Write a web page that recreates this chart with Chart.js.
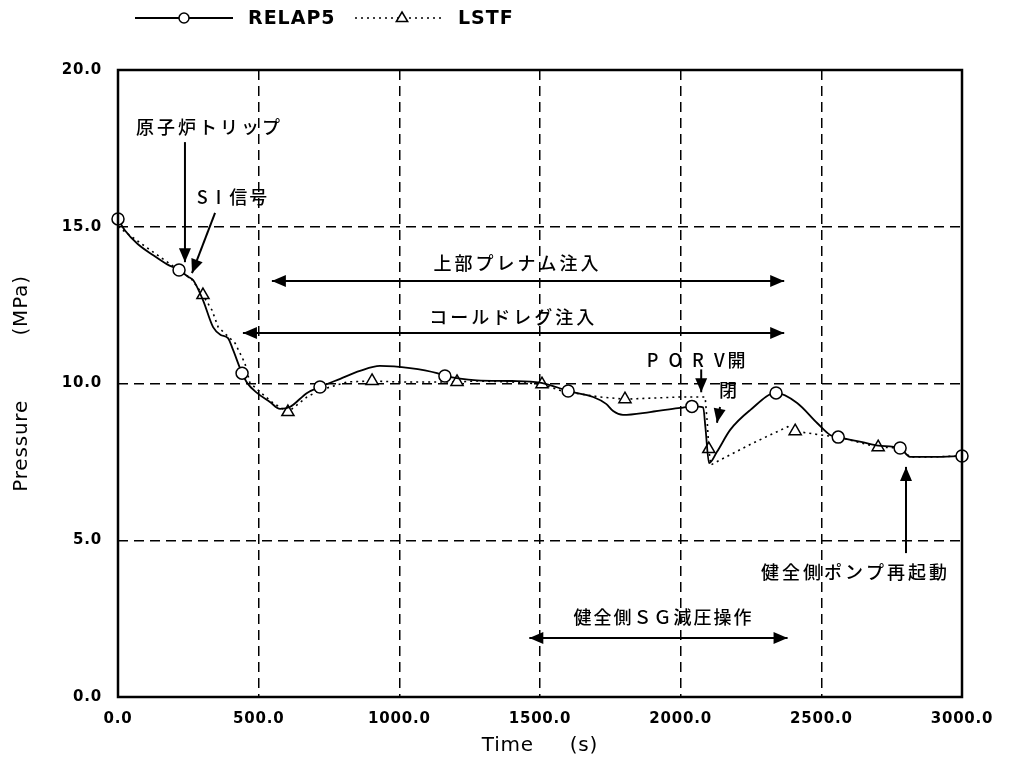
<!DOCTYPE html>
<html>
<head>
<meta charset="utf-8">
<script src="https://cdn.jsdelivr.net/npm/chart.js@4.4.1/dist/chart.umd.min.js"></script>
<style>
  html, body { margin: 0; padding: 0; background: #fff; }
  #wrap { width: 1011px; height: 758px; }
</style>
</head>
<body>
<div id="wrap"><canvas id="c" width="1011" height="758"></canvas></div>
<script>
// RELAP5 calculated pressure history (s, MPa)
const relapTime = [0, 25, 70, 124, 175, 217, 250, 267, 302, 338, 365, 391, 409, 441, 459, 494, 540, 576, 611, 672, 718, 790, 860, 931, 1038, 1134, 1162, 1276, 1400, 1500, 1560, 1600, 1689, 1735, 1760, 1795, 1891, 1998, 2040, 2080, 2088, 2101, 2129, 2176, 2247, 2339, 2414, 2485, 2531, 2560, 2650, 2702, 2780, 2815, 2900, 3000];
const relapPressure = [15.25, 14.88, 14.45, 14.1, 13.8, 13.62, 13.4, 13.3, 12.66, 11.8, 11.55, 11.45, 11.07, 10.33, 10.02, 9.70, 9.41, 9.19, 9.25, 9.70, 9.89, 10.15, 10.40, 10.56, 10.49, 10.33, 10.24, 10.10, 10.08, 10.03, 9.88, 9.76, 9.57, 9.35, 9.12, 9.00, 9.09, 9.22, 9.27, 9.24, 8.60, 7.46, 7.82, 8.52, 9.15, 9.70, 9.38, 8.74, 8.36, 8.29, 8.12, 8.02, 7.94, 7.66, 7.66, 7.69];
const relapMarkTimes = [0, 217, 441, 718, 1162, 1600, 2040, 2339, 2560, 2780, 3000];

// LSTF measured pressure history (s, MPa)
const lstfTime = [0, 100, 200, 260, 302, 334, 356, 416, 451, 469, 505, 551, 604, 672, 718, 814, 903, 1000, 1205, 1276, 1400, 1507, 1577, 1713, 1802, 1998, 2087, 2095, 2100, 2107, 2140, 2257, 2380, 2407, 2496, 2560, 2702, 2780, 2815, 2900, 3000];
const lstfPressure = [15.0, 14.35, 13.72, 13.35, 12.82, 12.34, 11.80, 11.29, 10.65, 10.02, 9.73, 9.38, 9.09, 9.57, 9.79, 10.05, 10.08, 10.05, 10.05, 10.08, 10.05, 9.98, 9.76, 9.57, 9.50, 9.57, 9.57, 8.70, 7.91, 7.40, 7.56, 8.10, 8.62, 8.48, 8.36, 8.29, 7.97, 7.94, 7.66, 7.66, 7.69];
const lstfMarkTimes = [302, 604, 903, 1205, 1507, 1802, 2100, 2407, 2702];

// Axis ticks
const timeTicks = [0, 500, 1000, 1500, 2000, 2500, 3000];
const pressureTicks = [0, 5, 10, 15, 20];

const seriesNames = ['RELAP5', 'LSTF'];

// Event notes: text placed at (t, p); arrows from (t1, p1) to (t2, p2)
const notes = [
  { text: '原子炉トリップ', t: 320, p: 18.18, spacing: 3 },
  { text: 'S I 信号', t: 405, p: 15.95, spacing: 2 },
  { text: '上部プレナム注入', t: 1415, p: 13.84, spacing: 3 },
  { text: 'コールドレグ注入', t: 1400, p: 12.12, spacing: 3 },
  { text: 'P O R V開', t: 2055, p: 10.75, spacing: 3 },
  { text: '閉', t: 2168, p: 9.79, spacing: 0 },
  { text: '健全側ポンプ再起動', t: 2616, p: 3.99, spacing: 3 },
  { text: '健全側ＳＧ減圧操作', t: 1935, p: 2.55, spacing: 2 }
];
const arrows = [
  { t1: 238, p1: 17.7, t2: 238, p2: 13.87, both: false },
  { t1: 345, p1: 15.44, t2: 263, p2: 13.52, both: false },
  { t1: 547, p1: 13.27, t2: 2368, p2: 13.27, both: true },
  { t1: 444, p1: 11.61, t2: 2368, p2: 11.61, both: true },
  { t1: 2073, p1: 10.45, t2: 2073, p2: 9.72, both: false },
  { t1: 2140, p1: 9.25, t2: 2129, p2: 8.75, both: false },
  { t1: 2801, p1: 4.59, t2: 2801, p2: 7.34, both: false },
  { t1: 1462, p1: 1.88, t2: 2380, p2: 1.88, both: true }
];

const LATIN = '"DejaVu Sans", Verdana, sans-serif';
const CJK = '"Noto Sans CJK JP", "Noto Sans", sans-serif';

function toPoints(xs, ys) { return xs.map((x, i) => ({ x: x, y: ys[i] })); }

function arrowHead(ctx, x1, y1, x2, y2, len, half) {
  const a = Math.atan2(y2 - y1, x2 - x1);
  ctx.beginPath();
  ctx.moveTo(x2, y2);
  ctx.lineTo(x2 - len * Math.cos(a) + half * Math.sin(a), y2 - len * Math.sin(a) - half * Math.cos(a));
  ctx.lineTo(x2 - len * Math.cos(a) - half * Math.sin(a), y2 - len * Math.sin(a) + half * Math.cos(a));
  ctx.closePath();
  ctx.fill();
}

function drawTriangle(ctx, x, y, r) {
  ctx.beginPath();
  ctx.moveTo(x, y - r);
  ctx.lineTo(x + r * 0.95, y + r * 0.6);
  ctx.lineTo(x - r * 0.95, y + r * 0.6);
  ctx.closePath();
  ctx.fillStyle = '#fff';
  ctx.fill();
  ctx.stroke();
}

// Slight tracking for the axis labels, then frame, event notes, arrows and the legend row
const decorations = {
  id: 'decorations',
  beforeDraw(chart) {
    chart.ctx.letterSpacing = '0.8px';
  },
  afterDatasetsDraw(chart) {
    const ctx = chart.ctx;
    const xs = chart.scales.x, ys = chart.scales.y;
    const a = chart.chartArea;
    ctx.save();
    ctx.strokeStyle = '#000';
    ctx.lineWidth = 2.5;
    ctx.setLineDash([]);
    ctx.strokeRect(a.left, a.top, a.right - a.left, a.bottom - a.top);

    // arrows
    ctx.fillStyle = '#000';
    ctx.lineWidth = 2;
    arrows.forEach(ar => {
      const x1 = xs.getPixelForValue(ar.t1), y1 = ys.getPixelForValue(ar.p1);
      const x2 = xs.getPixelForValue(ar.t2), y2 = ys.getPixelForValue(ar.p2);
      ctx.beginPath();
      ctx.moveTo(x1, y1);
      ctx.lineTo(x2, y2);
      ctx.stroke();
      arrowHead(ctx, x1, y1, x2, y2, 14, 6);
      if (ar.both) arrowHead(ctx, x2, y2, x1, y1, 14, 6);
    });

    // notes
    ctx.textAlign = 'center';
    ctx.textBaseline = 'middle';
    ctx.font = '500 18px ' + CJK;
    notes.forEach(n => {
      ctx.letterSpacing = n.spacing + 'px';
      ctx.fillText(n.text, xs.getPixelForValue(n.t) + n.spacing / 2, ys.getPixelForValue(n.p));
    });

    // legend
    const ly = 18;
    ctx.lineWidth = 1.8;
    ctx.beginPath();
    ctx.moveTo(135, ly); ctx.lineTo(233, ly);
    ctx.stroke();
    ctx.beginPath();
    ctx.arc(184, ly, 5, 0, Math.PI * 2);
    ctx.fillStyle = '#fff';
    ctx.fill();
    ctx.lineWidth = 1.5;
    ctx.stroke();
    ctx.setLineDash([2, 4]);
    ctx.beginPath();
    ctx.moveTo(355, ly); ctx.lineTo(445, ly);
    ctx.stroke();
    ctx.setLineDash([]);
    drawTriangle(ctx, 402, ly, 6);
    ctx.fillStyle = '#000';
    ctx.textAlign = 'left';
    ctx.font = 'bold 19px ' + LATIN;
    ctx.letterSpacing = '1px';
    ctx.fillText(seriesNames[0], 248, ly + 1);
    ctx.fillText(seriesNames[1], 458, ly + 1);
    ctx.restore();
  },
  afterDraw(chart) {
    chart.ctx.letterSpacing = '0px';
  }
};

const edgeColor = (ends) => (c) => (ends.includes(c.tick.value) ? 'rgba(0,0,0,0)' : '#000');

new Chart(document.getElementById('c'), {
  type: 'line',
  data: {
    datasets: [
      {
        label: seriesNames[0],
        data: toPoints(relapTime, relapPressure),
        borderColor: '#000',
        borderWidth: 1.8,
        cubicInterpolationMode: 'monotone',
        pointStyle: 'circle',
        pointRadius: (c) => (c.raw && relapMarkTimes.includes(c.raw.x) ? 6 : 0),
        pointBackgroundColor: '#fff',
        pointBorderColor: '#000',
        pointBorderWidth: 1.5,
        clip: false
      },
      {
        label: seriesNames[1],
        data: toPoints(lstfTime, lstfPressure),
        borderColor: '#000',
        borderWidth: 1.6,
        borderDash: [2, 4],
        tension: 0,
        pointStyle: 'triangle',
        pointRadius: (c) => (c.raw && lstfMarkTimes.includes(c.raw.x) ? 7 : 0),
        pointBackgroundColor: '#fff',
        pointBorderColor: '#000',
        pointBorderWidth: 1.5,
        clip: false
      }
    ]
  },
  options: {
    responsive: false,
    animation: false,
    devicePixelRatio: 1,
    layout: { padding: { top: 70, right: 49, left: 0, bottom: 0 } },
    plugins: { legend: { display: false }, tooltip: { enabled: false } },
    elements: { point: { hoverRadius: 0 } },
    scales: {
      x: {
        type: 'linear',
        min: 0, max: 3000,
        afterBuildTicks: (s) => { s.ticks = timeTicks.map(v => ({ value: v })); },
        afterFit: (s) => { s.height = 61; },
        ticks: {
          color: '#000',
          font: { family: LATIN, size: 15, weight: 'bold' },
          padding: 13,
          maxRotation: 0,
          callback: (v) => Number(v).toFixed(1)
        },
        grid: { color: edgeColor([0, 3000]), lineWidth: 1.5, drawTicks: false },
        border: { display: false, dash: [10, 6] },
        title: {
          display: true,
          text: 'Time     (s)',
          color: '#000',
          font: { family: LATIN, size: 20 },
          padding: { top: 4, bottom: 0 }
        }
      },
      y: {
        min: 0, max: 20,
        afterBuildTicks: (s) => { s.ticks = pressureTicks.map(v => ({ value: v })); },
        afterFit: (s) => { s.width = 118; },
        ticks: {
          color: '#000',
          font: { family: LATIN, size: 15, weight: 'bold' },
          padding: 16,
          callback: (v) => Number(v).toFixed(1)
        },
        grid: { color: edgeColor([0, 20]), lineWidth: 1.5, drawTicks: false },
        border: { display: false, dash: [10, 6] },
        title: {
          display: true,
          text: 'Pressure         (MPa)',
          color: '#000',
          font: { family: LATIN, size: 20 },
          padding: { top: 10, bottom: 0 }
        }
      }
    }
  },
  plugins: [decorations]
});
</script>
</body>
</html>
